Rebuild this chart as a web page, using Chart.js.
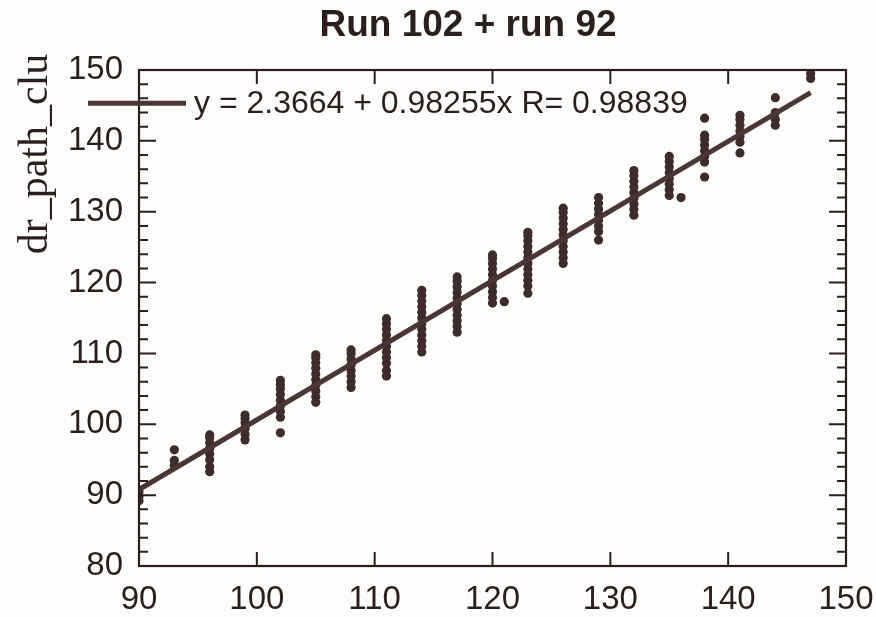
<!DOCTYPE html>
<html>
<head>
<meta charset="utf-8">
<script src="https://cdn.jsdelivr.net/npm/chart.js@4.4.1/dist/chart.umd.min.js"></script>
<style>
  html, body { margin: 0; padding: 0; background: #fdfdfc; }
  #wrap { width: 876px; height: 617px; position: relative; }
</style>
</head>
<body>
<div id="wrap"><canvas id="runChart" width="876" height="617"></canvas></div>
<script>
// x positions of each column of points
const clusterX = [90, 93, 96, 99, 102, 105, 108, 111, 114, 117, 120, 121, 123, 126, 129, 132, 135, 136, 138, 141, 144, 147];
// dr_path_clu values in each column
const clusterY = [
    [89.2, 89.8, 90.5],
    [94.2, 94.9, 96.4],
    [93.3, 94.0, 95.0, 95.8, 96.6, 97.4, 98.1, 98.5],
    [97.8, 98.6, 99.4, 100.2, 100.8, 101.3],
    [98.8, 101.0, 101.8, 102.6, 103.4, 104.2, 105.0, 105.6, 106.2],
    [103.1, 103.9, 104.7, 105.5, 106.3, 107.1, 107.9, 108.7, 109.4, 109.8],
    [105.2, 106.0, 106.8, 107.6, 108.4, 109.2, 110.0, 110.5],
    [106.8, 107.6, 108.6, 109.4, 110.2, 111.0, 111.8, 112.6, 113.4, 114.2, 114.9],
    [110.2, 111.0, 111.8, 112.6, 113.4, 114.2, 115.0, 115.8, 116.6, 117.4, 118.2, 118.9],
    [113.0, 113.8, 114.6, 115.4, 116.2, 117.0, 117.8, 118.6, 119.4, 120.2, 120.8],
    [117.1, 117.9, 118.7, 119.5, 120.3, 121.1, 121.9, 122.7, 123.4, 123.9],
    [117.3],
    [118.5, 119.5, 120.3, 121.1, 121.9, 122.7, 123.5, 124.3, 125.1, 125.9, 126.6, 127.1],
    [122.7, 123.5, 124.3, 125.1, 125.9, 126.7, 127.5, 128.3, 129.1, 129.9, 130.5],
    [126.0, 127.2, 128.0, 128.8, 129.6, 130.4, 131.2, 132.0],
    [129.5, 130.3, 131.1, 131.9, 132.7, 133.5, 134.3, 135.1, 135.8],
    [132.3, 133.1, 133.9, 134.7, 135.5, 136.3, 137.1, 137.8],
    [132.0],
    [134.9, 137.0, 137.8, 138.6, 139.4, 140.2, 140.8, 143.2],
    [138.3, 139.8, 140.6, 141.4, 142.2, 143.0, 143.6],
    [142.2, 143.0, 144.0, 146.1],
    [148.8, 149.5]
];
// fitted line ends
const fitX = [90, 147];
const fitY = [90.8, 146.8];
const fitLabel = 'y = 2.3664 + 0.98255x R= 0.98839';
const xTicks = [90, 100, 110, 120, 130, 140, 150];
const yTicks = [80, 90, 100, 110, 120, 130, 140, 150];

const ink = '#2a1f1e';
const markColor = '#3d2c2a';
const lineColor = '#4a3633';
const sans = '"Liberation Sans", Arial, sans-serif';

function buildPoints(){
    var pts = [];
    for (let i = 0; i < clusterX.length; i++){
        for (const v of clusterY[i]) pts.push({x: clusterX[i], y: v});
    }
    return pts;
}

// frame with inward ticks, title, legend entry and the y title
const framePlugin = {
    id: 'frame',
    afterDraw(chart){
        const ctx = chart.ctx;
        const a = chart.chartArea;
        const xs = chart.scales.x, ys = chart.scales.y;
        ctx.save();
        ctx.strokeStyle = ink;
        ctx.lineWidth = 2.2;
        ctx.strokeRect(a.left, a.top, a.right - a.left, a.bottom - a.top);
        ctx.lineWidth = 2;
        ctx.beginPath();
        for (const t of xTicks){
            const px = xs.getPixelForValue(t);
            if (t === 90 || t === 150) continue;
            ctx.moveTo(px, a.bottom); ctx.lineTo(px, a.bottom - 14);
            ctx.moveTo(px, a.top); ctx.lineTo(px, a.top + 14);
        }
        for (let v = 80; v <= 150; v += 2){
            const py = ys.getPixelForValue(v);
            const len = (v % 10 === 0) ? 17 : 9;
            ctx.moveTo(a.left, py); ctx.lineTo(a.left + len, py);
            ctx.moveTo(a.right, py); ctx.lineTo(a.right - len, py);
        }
        ctx.stroke();

        // title
        ctx.fillStyle = ink;
        ctx.font = 'bold 37px ' + sans;
        ctx.textAlign = 'center';
        ctx.textBaseline = 'middle';
        ctx.fillText('Run 102 + run 92', 468, 26);

        // legend entry
        const ly = ys.getPixelForValue(145.3);
        ctx.strokeStyle = lineColor;
        ctx.lineWidth = 5;
        ctx.beginPath();
        ctx.moveTo(88, ly); ctx.lineTo(186, ly);
        ctx.stroke();
        ctx.font = '32px ' + sans;
        ctx.textAlign = 'left';
        ctx.fillText(fitLabel, 194, ly + 1);

        // y axis title
        ctx.translate(36, 154);
        ctx.rotate(-Math.PI / 2);
        ctx.font = '42px "Liberation Serif", "Times New Roman", serif';
        ctx.textAlign = 'center';
        ctx.fillText('dr_path_clu', 0, 0);
        ctx.restore();
    }
};

var ctx = document.getElementById('runChart').getContext('2d');
var myChart = new Chart(ctx, {
    type: 'scatter',
    data: {
        datasets: [
            {
                label: 'fit',
                data: fitX.map((x, i) => ({x: x, y: fitY[i]})),
                showLine: true,
                borderColor: lineColor,
                borderWidth: 5,
                pointRadius: 0,
                order: 0
            },
            {
                label: 'points',
                data: buildPoints(),
                backgroundColor: markColor,
                borderColor: markColor,
                borderWidth: 0,
                pointRadius: 4.6,
                order: 1
            }
        ]
    },
    options: {
        responsive: false,
        animation: false,
        layout: { padding: { left: 0, right: 30, top: 70, bottom: 0 } },
        plugins: {
            legend: { display: false },
            tooltip: { enabled: false },
            title: { display: false }
        },
        scales: {
            x: {
                type: 'linear',
                min: 90, max: 150,
                afterBuildTicks: (s) => { s.ticks = xTicks.map(v => ({value: v})); },
                afterFit: (s) => { s.height = 51; s.paddingLeft = 0; s.paddingRight = 0; },
                grid: { display: false, drawTicks: false },
                border: { display: false },
                ticks: {
                    color: ink,
                    padding: 14,
                    maxRotation: 0,
                    font: { family: sans, size: 33 }
                }
            },
            y: {
                type: 'linear',
                min: 80, max: 150,
                afterBuildTicks: (s) => { s.ticks = yTicks.map(v => ({value: v})); },
                afterFit: (s) => { s.width = 139; s.paddingTop = 0; s.paddingBottom = 0; },
                grid: { display: false, drawTicks: false },
                border: { display: false },
                ticks: {
                    color: ink,
                    padding: 16,
                    font: { family: sans, size: 33 }
                }
            }
        }
    },
    plugins: [framePlugin]
});
</script>
</body>
</html>
